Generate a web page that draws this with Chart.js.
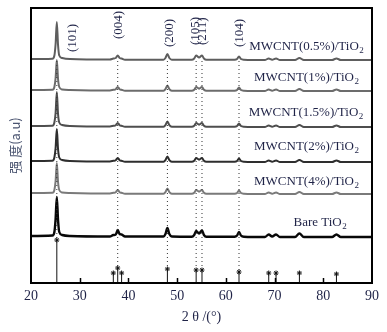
<!DOCTYPE html>
<html>
<head>
<meta charset="utf-8">
<script src="https://cdn.jsdelivr.net/npm/chart.js@4/dist/chart.umd.min.js"></script>
<style>
  html, body { margin: 0; padding: 0; background: #fff; }
  #wrap { width: 387px; height: 332px; }
</style>
</head>
<body>
<div id="wrap"><canvas id="xrdChart"></canvas></div>
<script>
// 2θ sampling points
const twoTheta = [20, 24.4, 24.8, 25.05, 25.3, 25.55, 25.8, 26.4, 28,
    36.2, 36.9, 37.4, 37.8, 38.2, 38.6, 39.3,
    47.2, 47.6, 48.0, 48.4, 48.9,
    53.0, 53.5, 53.9, 54.5, 55.1, 55.5, 56.0,
    61.8, 62.3, 62.7, 63.1, 63.7,
    68.0, 68.8, 69.5, 70.3, 71.1,
    74.2, 75.1, 76.0,
    81.8, 82.7, 83.6, 90];

// sample names, top to bottom, and their stacking baselines (a.u.)
const samples = ['MWCNT(0.5%)/TiO', 'MWCNT(1%)/TiO', 'MWCNT(1.5%)/TiO', 'MWCNT(2%)/TiO', 'MWCNT(4%)/TiO', 'Bare TiO'];
const baselines = [223, 192, 156, 121, 89, 46];

// intensity above baseline (a.u.)
const int05 = [1, 1.3, 4.5, 16, 38, 15, 4.5, 2, 1, 0.5, 1.5, 2, 4.5, 2, 1.5, 0.3, 0.3, 2, 6, 2, 0.3, 0.3, 1.5, 4.5, 2.5, 4.5, 1.5, 0.3, 0.3, 1, 3.5, 1, 0.3, 0, 1.5, 0.3, 1.5, 0, 0, 2, 0, 0, 1.5, 0, 0];
const int1 = [1, 1.2, 4, 13, 31, 12, 4, 1.5, 1, 0.5, 1.2, 1.8, 4, 1.8, 1.2, 0.3, 0.3, 1.8, 5.5, 1.8, 0.3, 0.3, 1.3, 4, 2.3, 4, 1.3, 0.3, 0.3, 1, 3.5, 1, 0.3, 0, 1.5, 0.3, 1.5, 0, 0, 2, 0, 0, 1.5, 0, 0];
const int15 = [1, 1.2, 4.5, 14, 35, 13, 4.5, 2, 1, 0.5, 1.2, 1.8, 4, 1.8, 1.2, 0.3, 0.3, 1.8, 5.5, 1.8, 0.3, 0.3, 1.3, 4, 2.3, 4, 1.3, 0.3, 0.3, 1, 3.5, 1, 0.3, 0, 1.5, 0.3, 1.5, 0, 0, 2, 0, 0, 1.5, 0, 0];
const int2 = [1, 1.2, 4.5, 14, 33, 13, 4.5, 2, 1, 0.5, 1.2, 1.8, 4, 1.8, 1.2, 0.3, 0.3, 1.8, 5.5, 1.8, 0.3, 0.3, 1.3, 4, 2.3, 4, 1.3, 0.3, 0.3, 1, 3.5, 1, 0.3, 0, 1.5, 0.3, 1.5, 0, 0, 2, 0, 0, 1.5, 0, 0];
const int4 = [1, 1.2, 4, 13, 31, 12, 4, 1.5, 1, 0.5, 1.2, 1.8, 4, 1.8, 1.2, 0.3, 0.3, 1.8, 5.5, 1.8, 0.3, 0.3, 1.3, 4, 2.3, 4, 1.3, 0.3, 0.3, 1, 3.5, 1, 0.3, 0, 1.5, 0.3, 1.5, 0, 0, 2, 0, 0, 1.5, 0, 0];
const intBare = [1, 1.5, 5, 18, 40, 17, 5, 2, 1, 0.5, 2, 2.5, 7, 3, 2.5, 0.5, 0.5, 3, 9, 3, 0.5, 0.3, 2, 6, 3.5, 6.5, 2, 0.3, 0.3, 1.5, 5, 1.5, 0.3, 0, 2.5, 0.5, 2.5, 0, 0, 3.5, 0, 0, 2.5, 0, 0];
const intensities = [int05, int1, int15, int2, int4, intBare];

// anatase reference pattern (stick positions and heights)
const refPos = [25.3, 36.9, 37.8, 38.6, 48.0, 53.9, 55.1, 62.7, 68.8, 70.3, 75.1, 82.7];
const refHeight = [43, 10, 15, 10, 14, 13, 13, 11, 10, 10, 10, 9];

// (hkl) guide lines
const hklNames = ['(101)', '(004)', '(200)', '(105)', '(211)', '(104)'];
const hklPos = [25.3, 37.8, 48.0, 53.9, 55.1, 62.7];

const xTicks = [20, 30, 40, 50, 60, 70, 80, 90];

const traceColors = ['#5e5e5e', '#6c6c6c', '#4e4e4e', '#2e2e2e', '#7a7a7a', '#080808'];
const textColor = '#1f2347';

// traces
const datasets = samples.map((name, i) => ({
    label: name,
    data: twoTheta.map((t, k) => ({ x: t, y: baselines[i] + intensities[i][k] })),
    borderColor: traceColors[i],
    borderWidth: i === 5 ? 2.4 : 2,
    pointRadius: 0,
    cubicInterpolationMode: 'monotone',
    order: 2
}));

// dotted guide lines from under the top trace down to the reference stars
const dotted = [];
hklPos.forEach(p => {
    const h = refHeight[refPos.indexOf(p)];
    dotted.push({ x: p, y: 222 }, { x: p, y: h }, { x: p, y: null });
});
datasets.push({
    data: dotted,
    borderColor: '#333',
    borderWidth: 1,
    borderDash: [1, 3],
    pointRadius: 0,
    spanGaps: false,
    order: 1
});

// reference sticks
const sticks = [];
refPos.forEach((p, i) => {
    sticks.push({ x: p, y: 0 }, { x: p, y: refHeight[i] }, { x: p, y: null });
});
datasets.push({
    data: sticks,
    borderColor: '#111',
    borderWidth: 1,
    pointRadius: 0,
    spanGaps: false,
    order: 1
});

// stars on the sticks
datasets.push({
    data: refPos.map((p, i) => ({ x: p, y: refHeight[i] })),
    showLine: false,
    pointStyle: 'star',
    pointRadius: 2.5,
    pointBorderWidth: 1,
    pointBorderColor: '#111',
    pointBackgroundColor: '#111',
    order: 0
});

// text with a subscript "2" at the end
function drawSubLabel(ctx, text, cx, cy) {
    ctx.font = '13px "Liberation Serif", serif';
    const w1 = ctx.measureText(text).width;
    ctx.font = '9px "Liberation Serif", serif';
    const w2 = ctx.measureText('2').width;
    const x0 = cx - (w1 + w2) / 2;
    ctx.textAlign = 'left';
    ctx.textBaseline = 'middle';
    ctx.font = '13px "Liberation Serif", serif';
    ctx.fillText(text, x0, cy);
    ctx.font = '9px "Liberation Serif", serif';
    ctx.fillText('2', x0 + w1 + 0.5, cy + 4);
}

const decorPlugin = {
    id: 'decor',
    afterDraw(chart) {
        const ctx = chart.ctx;
        const xs = chart.scales.x;
        const ys = chart.scales.y;
        const area = chart.chartArea;
        ctx.save();

        // frame
        ctx.strokeStyle = '#000';
        ctx.lineWidth = 2;
        ctx.strokeRect(area.left, area.top, area.right - area.left, area.bottom - area.top);

        // inward ticks on the 2θ axis
        ctx.lineWidth = 1.5;
        xTicks.slice(1, -1).forEach(t => {
            const px = Math.round(xs.getPixelForValue(t)) + 0.5;
            ctx.beginPath();
            ctx.moveTo(px, area.bottom);
            ctx.lineTo(px, area.bottom - 5);
            ctx.stroke();
        });

        // (hkl) labels, rotated
        const hklLabelX = [28.6, 37.9, 48.5, 53.7, 55.3, 62.9];
        const hklLabelBottom = [231, 244, 236, 238, 238, 236];
        ctx.fillStyle = textColor;
        ctx.font = '13px "Liberation Serif", serif';
        ctx.textAlign = 'left';
        ctx.textBaseline = 'middle';
        hklNames.forEach((n, i) => {
            ctx.save();
            ctx.translate(xs.getPixelForValue(hklLabelX[i]), ys.getPixelForValue(hklLabelBottom[i]));
            ctx.rotate(-Math.PI / 2);
            ctx.fillText(n, 0, 0);
            ctx.restore();
        });

        // sample labels
        const labelX = [76.5, 76.5, 76.4, 76.5, 76.5, 79.3];
        const labelY = [236, 205, 170, 136, 101, 60];
        samples.forEach((s, i) => {
            drawSubLabel(ctx, s, xs.getPixelForValue(labelX[i]), ys.getPixelForValue(labelY[i]));
        });
        ctx.restore();
    }
};

new Chart(document.getElementById('xrdChart'), {
    type: 'line',
    data: { datasets: datasets },
    options: {
        responsive: true,
        maintainAspectRatio: false,
        animation: false,
        layout: { padding: { top: 8, right: 15, left: 0, bottom: 0 } },
        plugins: {
            legend: { display: false },
            tooltip: { enabled: false }
        },
        scales: {
            x: {
                type: 'linear',
                min: 20,
                max: 90,
                afterFit: scale => { scale.height = 49; },
                afterBuildTicks: scale => { scale.ticks = xTicks.map(v => ({ value: v })); },
                grid: { display: false, drawTicks: false },
                border: { display: false },
                ticks: {
                    padding: 5,
                    color: textColor,
                    font: { family: '"Liberation Serif", serif', size: 14 }
                },
                title: {
                    display: true,
                    text: '2 θ /(°)',
                    color: textColor,
                    padding: { bottom: 6 },
                    font: { family: '"Liberation Serif", serif', size: 14 }
                }
            },
            y: {
                min: 0,
                max: 275,
                afterFit: scale => { scale.width = 31; },
                grid: { display: false, drawTicks: false },
                border: { display: false },
                ticks: { display: false },
                title: {
                    display: true,
                    text: '强 度(a.u)',
                    color: '#4a5470',
                    padding: { top: 7 },
                    font: { family: '"Noto Sans CJK SC", sans-serif', size: 13 }
                }
            }
        }
    },
    plugins: [decorPlugin]
});
</script>
</body>
</html>
